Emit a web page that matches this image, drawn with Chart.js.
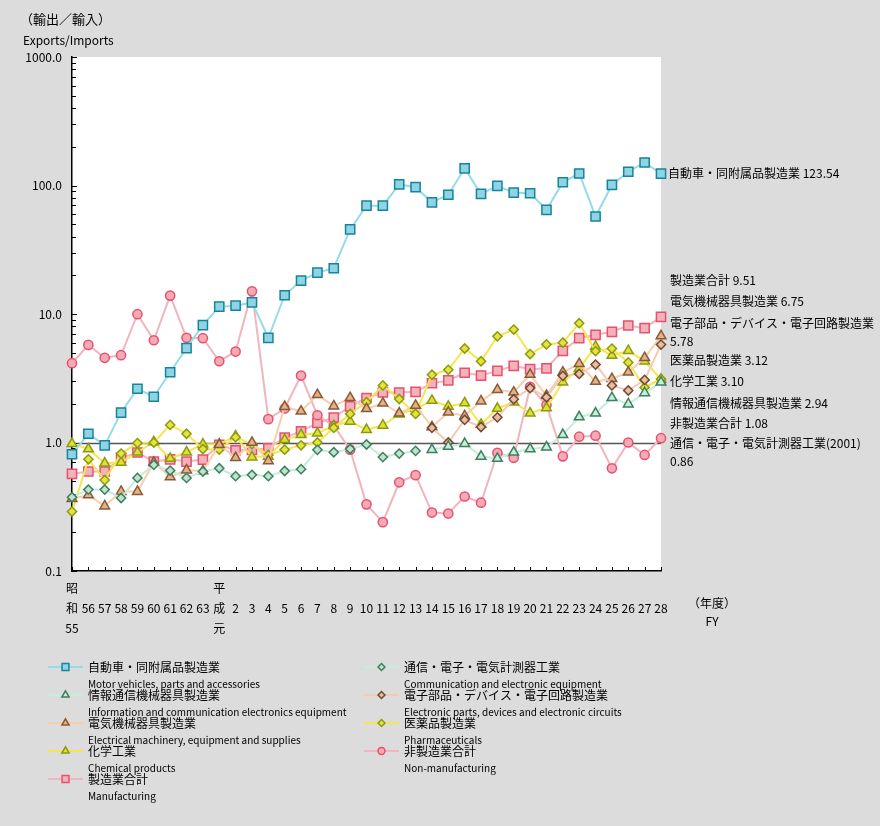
<!DOCTYPE html>
<html>
<head>
<meta charset="utf-8">
<script src="https://cdn.jsdelivr.net/npm/chart.js@4.4.1/dist/chart.umd.min.js"></script>
<style>
html, body { margin: 0; padding: 0; background: #fff; }
canvas { display: block; }
</style>
</head>
<body>
<canvas id="chart" width="880" height="826"></canvas>
<script>
// fiscal years: 昭和55 .. 63, 平成元 .. 28
const years = ['昭和55','56','57','58','59','60','61','62','63','平成元','2','3','4','5','6','7','8','9','10','11','12','13','14','15','16','17','18','19','20','21','22','23','24','25','26','27','28'];

const autos = [0.81,1.17,0.95,1.71,2.62,2.27,3.52,5.42,8.18,11.4,11.6,12.3,6.53,14.0,18.2,21.0,22.7,45.5,69.7,69.7,102,97,74,84.7,136,86,99.5,88,87,64.7,106,124,57.4,101,128,151,123.54];
const commEquip = [0.375,0.43,0.43,0.37,0.53,0.67,0.605,0.53,0.595,0.63,0.547,0.56,0.547,0.60,0.62,0.877,0.84,0.89,0.965,0.77,0.82,0.86,null,null,null,null,null,null,null,null,null,null,null,null,null,null,null];
const infoComm = [null,null,null,null,null,null,null,null,null,null,null,null,null,null,null,null,null,null,null,null,null,null,0.88,0.93,0.98,0.78,0.75,0.84,0.89,0.92,1.15,1.58,1.69,2.23,1.99,2.43,2.94];
const electronic = [null,null,null,null,null,null,null,null,null,null,null,null,null,null,null,null,null,null,null,null,null,null,1.3,1.0,1.5,1.32,1.57,2.17,2.65,2.25,3.3,3.42,4.04,2.78,2.54,3.07,5.78];
const electrical = [0.365,0.39,0.32,0.415,0.415,0.70,0.54,0.61,0.60,0.96,0.76,1.0,0.72,1.9,1.75,2.35,1.92,2.23,1.83,2.02,1.69,1.94,1.32,1.72,1.61,2.1,2.57,2.46,3.38,2.32,3.52,4.1,2.98,3.13,3.52,4.56,6.75];
const pharma = [0.29,0.74,0.51,0.82,0.99,1.0,1.37,1.17,0.89,0.88,1.1,0.97,0.80,0.88,0.95,1.0,1.3,1.67,2.06,2.78,2.18,1.67,3.37,3.68,5.39,4.29,6.7,7.57,4.88,5.8,5.98,8.48,5.14,5.38,4.2,2.68,3.12];
const chemical = [0.98,0.89,0.69,0.70,0.84,1.01,0.75,0.84,0.97,0.97,1.12,0.77,0.78,1.05,1.15,1.18,1.35,1.46,1.26,1.36,1.66,1.83,2.12,1.91,2.03,1.38,1.84,2.06,1.69,1.86,2.95,3.77,5.58,4.75,5.17,4.3,3.10];
const nonManuf = [4.14,5.75,4.56,4.78,9.96,6.25,13.9,6.53,6.48,4.29,5.1,15.0,1.52,1.84,3.32,1.63,1.35,0.88,0.33,0.24,0.49,0.557,0.285,0.28,0.38,0.34,0.83,0.76,2.71,1.96,0.78,1.11,1.13,0.63,1.0,0.80,1.08];
const manuf = [0.57,0.595,0.595,0.76,0.836,0.71,0.74,0.71,0.737,0.96,0.87,0.877,0.90,1.09,1.22,1.42,1.56,1.91,2.22,2.45,2.45,2.48,2.89,3.04,3.49,3.32,3.61,3.95,3.72,3.78,5.17,6.48,6.89,7.27,8.14,7.76,9.51];

const namesJa = ['自動車・同附属品製造業','通信・電子・電気計測器工業','情報通信機械器具製造業','電子部品・デバイス・電子回路製造業','電気機械器具製造業','医薬品製造業','化学工業','非製造業合計','製造業合計'];
const namesEn = ['Motor vehicles, parts and accessories','Communication and electronic equipment','Information and communication electronics equipment','Electronic parts, devices and electronic circuits','Electrical machinery, equipment and supplies','Pharmaceuticals','Chemical products','Non-manufacturing','Manufacturing'];

const yTickValues = [0.1, 1, 10, 100, 1000];

// end-of-line notes on the right
const endNotes = [
  ['自動車・同附属品製造業 123.54', 668, 173],
  ['製造業合計 9.51', 670, 280],
  ['電気機械器具製造業 6.75', 670, 301],
  ['電子部品・デバイス・電子回路製造業', 670, 323],
  ['5.78', 670, 341],
  ['医薬品製造業 3.12', 670, 360],
  ['化学工業 3.10', 670, 381],
  ['情報通信機械器具製造業 2.94', 670, 403],
  ['非製造業合計 1.08', 670, 423],
  ['通信・電子・電気計測器工業(2001)', 670, 443],
  ['0.86', 670, 461]
];

function series(i, data, style, radius, line, fill, border) {
  return {
    label: namesJa[i],
    data: data,
    borderColor: line,
    borderWidth: 2,
    pointStyle: style,
    pointRadius: radius,
    pointBackgroundColor: fill,
    pointBorderColor: border,
    pointBorderWidth: 1.5,
    legendRadius: radius * 0.75,
    tension: 0
  };
}

const datasets = [
  series(0, autos, 'rect', 6.5, '#96dbea', '#8fd4e4', '#17849b'),
  series(1, commEquip, 'rectRot', 4.6, '#c6ecdb', '#bde4cf', '#3f7e60'),
  series(2, infoComm, 'triangle', 5.6, '#c6ecdb', '#c8eedb', '#3f7e60'),
  series(3, electronic, 'rectRot', 4.6, '#f6c9b4', '#e9bc9e', '#6c4a32'),
  series(4, electrical, 'triangle', 5.6, '#f8cfae', '#e2b28a', '#8a5a34'),
  series(5, pharma, 'rectRot', 4.6, '#f5e650', '#e4e43c', '#8c9a12'),
  series(6, chemical, 'triangle', 5.6, '#f5e650', '#e0df34', '#8c9a12'),
  series(7, nonManuf, 'circle', 4.6, '#f1b5bd', '#f2abb5', '#e8506e'),
  series(8, manuf, 'rect', 6.5, '#f1b5bd', '#f2b2ba', '#e8506e')
];

const decor = {
  id: 'decor',
  beforeDraw(chart) {
    const ctx = chart.ctx, a = chart.chartArea;
    ctx.save();
    ctx.fillStyle = '#dcdcdc';
    ctx.fillRect(0, 0, 880, 826);
    ctx.fillStyle = '#fff';
    ctx.fillRect(a.left, a.top, a.right - a.left, a.bottom - a.top);
    ctx.restore();
  },
  beforeDatasetsDraw(chart) {
    const ctx = chart.ctx, a = chart.chartArea;
    const ys = chart.scales.y, xs = chart.scales.x;
    ctx.save();
    // reference line at 1.0
    const y1 = Math.round(ys.getPixelForValue(1)) + 0.5;
    ctx.strokeStyle = '#555';
    ctx.lineWidth = 1.5;
    ctx.beginPath(); ctx.moveTo(a.left, y1); ctx.lineTo(a.right, y1); ctx.stroke();
    // inward ticks
    ctx.strokeStyle = '#000';
    ctx.lineWidth = 1;
    ys.ticks.forEach(t => {
      const y = Math.round(ys.getPixelForValue(t.value)) + 0.5;
      const major = yTickValues.includes(t.value);
      ctx.beginPath(); ctx.moveTo(a.left, y); ctx.lineTo(a.left + (major ? 5 : 4), y); ctx.stroke();
    });
    years.forEach((_, i) => {
      const x = Math.round(xs.getPixelForValue(i)) + 0.5;
      ctx.beginPath(); ctx.moveTo(x, a.bottom); ctx.lineTo(x, a.bottom - 4); ctx.stroke();
    });
    ctx.restore();
  },
  afterDraw(chart) {
    const ctx = chart.ctx;
    ctx.save();
    ctx.fillStyle = '#000';
    ctx.textBaseline = 'middle';
    ctx.textAlign = 'left';
    ctx.font = '13px "Noto Sans CJK JP"';
    ctx.fillText('（輸出／輸入）', 20, 19);
    ctx.font = '12px "Noto Sans CJK JP"';
    ctx.fillText('Exports/Imports', 23, 40);

    endNotes.forEach(n => ctx.fillText(n[0], n[1], n[2]));

    ctx.textAlign = 'center';
    ctx.fillText('（年度）', 712, 603);
    ctx.fillText('FY', 712, 621);

    // legend, two columns
    chart.data.datasets.forEach((ds, k) => {
      const x = k % 2 === 0 ? 48 : 364;
      const y = 667 + Math.floor(k / 2) * 28;
      ctx.strokeStyle = ds.borderColor;
      ctx.lineWidth = 2;
      ctx.beginPath(); ctx.moveTo(x, y); ctx.lineTo(x + 35, y); ctx.stroke();
      ctx.fillStyle = ds.pointBackgroundColor;
      ctx.strokeStyle = ds.pointBorderColor;
      ctx.lineWidth = 1.5;
      Chart.helpers.drawPoint(ctx, {pointStyle: ds.pointStyle, radius: ds.legendRadius, borderWidth: 1.5, rotation: 0}, x + 17.5, y);
      ctx.fillStyle = '#000';
      ctx.textAlign = 'left';
      ctx.font = '12px "Noto Sans CJK JP"';
      ctx.fillText(namesJa[k], x + 40, y);
      ctx.font = '10px "Noto Sans CJK JP"';
      ctx.fillText(namesEn[k], x + 40, y + 17);
    });
    ctx.restore();
  }
};

new Chart(document.getElementById('chart'), {
  type: 'line',
  data: { labels: years, datasets: datasets },
  options: {
    responsive: false,
    animation: false,
    devicePixelRatio: 1,
    layout: { padding: { left: 0, top: 57, right: 219, bottom: 0 } },
    font: { family: '"Noto Sans CJK JP"' },
    plugins: { legend: { display: false }, tooltip: { enabled: false } },
    scales: {
      x: {
        type: 'category',
        offset: false,
        grid: { color: 'transparent', drawTicks: false },
        border: { color: '#000', width: 1.5 },
        ticks: {
          autoSkip: false,
          maxRotation: 0,
          padding: 8,
          color: '#000',
          font: { size: 12, family: '"Noto Sans CJK JP"', lineHeight: 1.65 },
          callback: function (v, i) {
            const s = years[i];
            if (s.startsWith('昭和')) return ['昭', '和', s.slice(2)];
            if (s.startsWith('平成')) return ['平', '成', s.slice(2)];
            return ['', s];
          }
        },
        afterFit: s => { s.height = 255; }
      },
      y: {
        type: 'logarithmic',
        min: 0.1,
        max: 1000,
        grid: { color: 'transparent', drawTicks: false },
        border: { color: '#000', width: 1.5 },
        afterBuildTicks: s => {
          const t = [];
          for (let e = -1; e <= 2; e++) {
            for (let m = 1; m <= 9; m++) t.push({ value: +(m * Math.pow(10, e)).toPrecision(3) });
          }
          t.push({ value: 1000 });
          s.ticks = t;
        },
        ticks: {
          autoSkip: false,
          padding: 10,
          color: '#000',
          font: { size: 12, family: '"Noto Sans CJK JP"' },
          callback: v => {
            if (!yTickValues.includes(v)) return '';
            return v < 1 ? String(v) : v.toFixed(1);
          }
        },
        afterFit: s => { s.width = 72; }
      }
    }
  },
  plugins: [decor]
});
</script>
</body>
</html>
